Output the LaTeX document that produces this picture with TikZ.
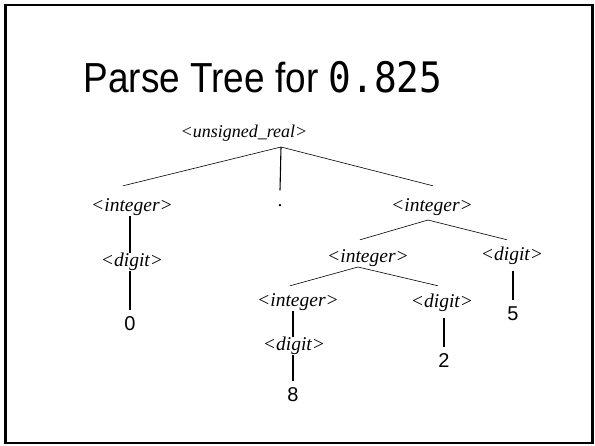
\documentclass[tikz,border=0pt]{standalone}
\usepackage{fontspec}
\setmainfont{Liberation Serif}
\newfontfamily\titlefont[FakeStretch=0.88]{Liberation Sans}
\newfontfamily\titlemono[FakeStretch=0.9]{DejaVu Sans Mono}
\newfontfamily\digitfont{Liberation Sans}
\begin{document}
\begin{tikzpicture}[x=1pt,y=-1pt,
  nt/.style={font=\fontsize{19.5}{20}\selectfont\itshape, inner sep=1pt, text height=12pt, text depth=4pt},
  rootnt/.style={nt, font=\fontsize{18}{20}\selectfont\itshape},
  lf/.style={font=\digitfont\fontsize{20}{20}\selectfont, inner sep=0pt, text height=14pt, text depth=0pt, outer ysep=6pt},
  fan/.style={line width=0.6pt},
  stem/.style={line width=1.1pt}]
\useasboundingbox (0,0) rectangle (595,445);
\draw[line width=2.2pt] (5.5,4.8) rectangle (592.5,443);
\node[anchor=base, font=\titlefont\fontsize{42}{44}\selectfont] (title) at (263,92)
  {Parse Tree for {\titlemono 0.825}};
\node[rootnt] (root) at (244,133) {<unsigned\_real>};
\node[nt] (int1) at (132,207) {<integer>};
\node[font=\fontsize{19.5}{20}\selectfont, anchor=base] (dot) at (280,206) {.};
\node[nt] (int2) at (432,207) {<integer>};
\node[nt] (digA) at (132,262) {<digit>};
\node[lf] (zero) at (130,323) {0};
\node[nt] (int3) at (368,258) {<integer>};
\node[nt] (digB) at (512,256) {<digit>};
\node[lf] (five) at (513,313) {5};
\node[nt] (int4) at (298,302) {<integer>};
\node[nt] (digC) at (442,303) {<digit>};
\node[lf] (two) at (444,360) {2};
\node[nt] (digD) at (294,346) {<digit>};
\node[lf] (eight) at (293,394) {8};
% root fan
\coordinate (rfan) at (281,147);
\draw[fan] (rfan) -- ([xshift=-9pt,yshift=12pt]int1.north);
\draw[fan] (rfan) -- ([xshift=1pt,yshift=12pt]int2.north);
\draw[stem] (rfan) -- ([yshift=10pt]dot.north);
% int2 fan
\coordinate (i2fan) at (428,220);
\draw[fan] (i2fan) -- ([xshift=-8pt,yshift=9pt]int3.north);
\draw[fan] (i2fan) -- ([xshift=-5pt,yshift=7pt]digB.north);
% int3 fan
\coordinate (i3fan) at (358,267);
\draw[fan] (i3fan) -- ([xshift=-8pt,yshift=7pt]int4.north);
\draw[fan] (i3fan) -- ([xshift=-4pt,yshift=8pt]digC.north);
% stems
\draw[stem] (int1.south -| zero) -- (digA.north -| zero);
\draw[stem] (digA.south -| zero) -- (zero.north);
\draw[stem] ([yshift=-6pt]digB.south -| five) -- (five.north);
\draw[stem] ([yshift=-6pt]digC.south -| two) -- (two.north);
\draw[stem] (int4.south -| eight) -- (digD.north -| eight);
\draw[stem] (digD.south -| eight) -- (eight.north);
\end{tikzpicture}
\end{document}
